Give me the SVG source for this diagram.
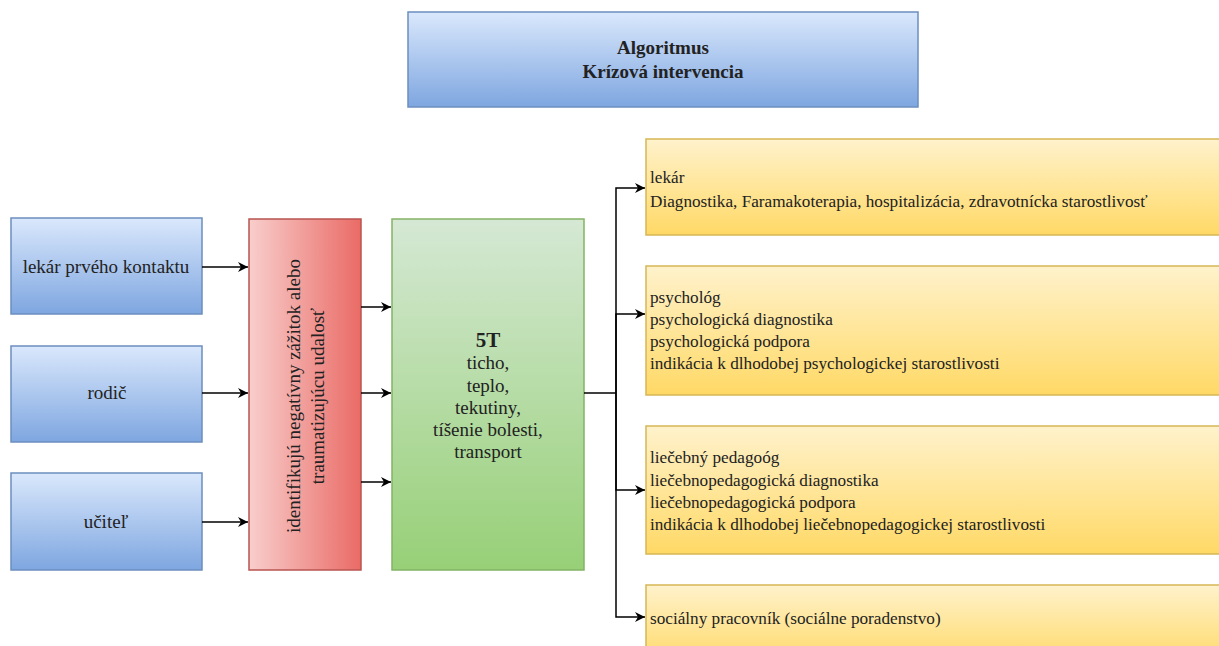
<svg xmlns="http://www.w3.org/2000/svg" width="1219" height="646" viewBox="0 0 1219 646">
<defs>
<linearGradient id="gBlue" x1="0" y1="0" x2="0" y2="1"><stop offset="0" stop-color="#dae8fc"/><stop offset="1" stop-color="#7ea6e0"/></linearGradient>
<linearGradient id="gRed" x1="0" y1="0" x2="1" y2="0"><stop offset="0" stop-color="#f8cecc"/><stop offset="1" stop-color="#ea6b66"/></linearGradient>
<linearGradient id="gGreen" x1="0" y1="0" x2="0" y2="1"><stop offset="0" stop-color="#d5e8d4"/><stop offset="1" stop-color="#97d077"/></linearGradient>
<linearGradient id="gYellow" x1="0" y1="0" x2="0" y2="1"><stop offset="0" stop-color="#fff2cc"/><stop offset="1" stop-color="#ffd966"/></linearGradient>
<marker id="arr" viewBox="0 0 10 10" refX="10" refY="5" markerWidth="10" markerHeight="10" markerUnits="userSpaceOnUse" orient="auto"><path d="M0,0 L10,5 L0,10 L3,5 Z" fill="#000"/></marker>
<style>
.blue{fill:url(#gBlue);stroke:#6c8ebf;stroke-width:1.5}
.red{fill:url(#gRed);stroke:#b85450;stroke-width:1.5}
.green{fill:url(#gGreen);stroke:#82b366;stroke-width:1.5}
.yellow{fill:url(#gYellow);stroke:#d6b656;stroke-width:1.5}
text{font-family:"Liberation Serif","Times New Roman",serif;font-size:19px;fill:#222}
.y{font-size:17.2px}
.c{text-anchor:middle}
.b{font-weight:bold}
.edge{fill:none;stroke:#000;stroke-width:1.5}
.arrow{marker-end:url(#arr)}
</style>
</defs>
<rect width="1219" height="646" fill="#fff"/>
<g id="title">
<rect class="blue" x="408" y="12" width="510" height="95"/>
<text class="c b" x="663" y="54">Algoritmus</text>
<text class="c b" x="663" y="78">Krízová intervencia</text>
</g>
<g id="lekar-prveho">
<rect class="blue" x="11" y="218" width="191" height="96"/>
<text class="c" x="106" y="273">lekár prvého kontaktu</text>
</g>
<g id="rodic">
<rect class="blue" x="11" y="346" width="191" height="96"/>
<text class="c" x="107" y="399">rodič</text>
</g>
<g id="ucitel">
<rect class="blue" x="11" y="473" width="191" height="97"/>
<text class="c" x="106" y="528">učiteľ</text>
</g>
<g id="identifikuju">
<rect class="red" x="249" y="219" width="112" height="351"/>
<g transform="translate(305,396) rotate(-90)">
<text class="c" x="0" y="-5">identifikujú negatívny zážitok alebo</text>
<text class="c" x="0" y="19">traumatizujúcu udalosť</text>
</g>
</g>
<g id="5t">
<rect class="green" x="392" y="219" width="192" height="351"/>
<text class="c b" x="488" y="347" style="font-size:21px">5T</text>
<text class="c" x="488" y="369">ticho,</text>
<text class="c" x="488" y="392">teplo,</text>
<text class="c" x="488" y="414">tekutiny,</text>
<text class="c" x="488" y="436">tíšenie bolesti,</text>
<text class="c" x="488" y="458">transport</text>
</g>
<g id="lekar">
<rect class="yellow" x="646" y="139" width="580" height="96"/>
<text class="y" x="650" y="183">lekár</text>
<text class="y" x="650" y="207">Diagnostika, Faramakoterapia, hospitalizácia, zdravotnícka starostlivosť</text>
</g>
<g id="psycholog">
<rect class="yellow" x="646" y="266" width="580" height="129"/>
<text class="y" x="650" y="303">psychológ</text>
<text class="y" x="650" y="325">psychologická diagnostika</text>
<text class="y" x="650" y="347">psychologická podpora</text>
<text class="y" x="650" y="369">indikácia k dlhodobej psychologickej starostlivosti</text>
</g>
<g id="liecebny">
<rect class="yellow" x="646" y="426" width="580" height="128"/>
<text class="y" x="650" y="463">liečebný pedagoóg</text>
<text class="y" x="650" y="486">liečebnopedagogická diagnostika</text>
<text class="y" x="650" y="508">liečebnopedagogická podpora</text>
<text class="y" x="650" y="530">indikácia k dlhodobej liečebnopedagogickej starostlivosti</text>
</g>
<g id="socialny">
<rect class="yellow" x="646" y="585" width="580" height="80"/>
<text class="y" x="650" y="624">sociálny pracovník (sociálne poradenstvo)</text>
</g>
<g id="connectors">
<line class="edge arrow" x1="202" y1="267" x2="248" y2="267"/>
<line class="edge arrow" x1="202" y1="393" x2="248" y2="393"/>
<line class="edge arrow" x1="202" y1="522" x2="248" y2="522"/>
<line class="edge arrow" x1="361" y1="307" x2="391" y2="307"/>
<line class="edge arrow" x1="361" y1="393" x2="391" y2="393"/>
<line class="edge arrow" x1="361" y1="482" x2="391" y2="482"/>
<line class="edge" x1="584" y1="393" x2="616" y2="393"/>
<polyline class="edge arrow" points="616,393 616,188 645,188"/>
<polyline class="edge arrow" points="616,393 616,314 645,314"/>
<polyline class="edge arrow" points="616,393 616,490 645,490"/>
<polyline class="edge arrow" points="616,393 616,617 645,617"/>
</g>
</svg>
